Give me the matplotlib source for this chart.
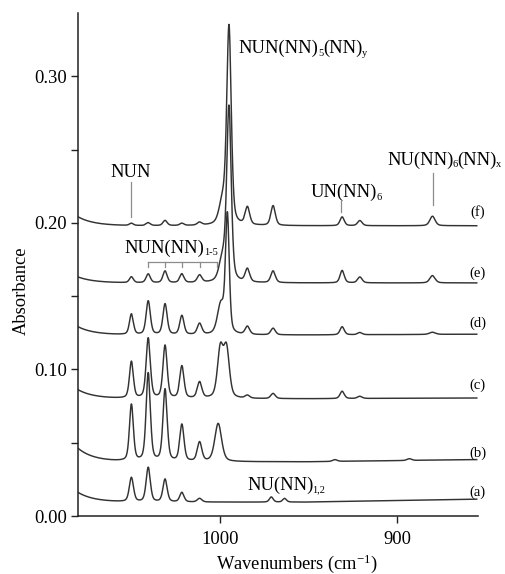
import numpy as np
import matplotlib
matplotlib.use("Agg")
import matplotlib.pyplot as plt

plt.rcParams['font.family'] = ['Liberation Serif', 'DejaVu Serif']
plt.rcParams['mathtext.fontset'] = 'custom'
plt.rcParams['mathtext.rm'] = 'Liberation Serif'
plt.rcParams['mathtext.it'] = 'Liberation Serif:italic'

# spectra labels, bottom to top
labels = ['(a)', '(b)', '(c)', '(d)', '(e)', '(f)']

# baseline: flat level, extra rise at the left edge, value at the right edge
base_level = [0.0095, 0.037, 0.080, 0.1235, 0.159, 0.198]
base_left = [0.0065, 0.009, 0.006, 0.0055, 0.004, 0.006]
base_right = [0.0115, 0.0385, 0.0805, 0.124, 0.159, 0.198]

# peaks per spectrum: (centre cm-1, height above baseline, fwhm cm-1)
peaks_a = [(1050, 0.0165, 2.8), (1040.5, 0.0235, 2.8), (1031, 0.0155, 2.8),
           (1021.5, 0.0065, 2.8), (1011.5, 0.0025, 3.0),
           (971, 0.0035, 2.5), (963.5, 0.0025, 2.5)]
peaks_b = [(1050, 0.0385, 2.6), (1040.5, 0.060, 2.8), (1031, 0.049, 2.8),
           (1021.5, 0.025, 2.8), (1011.5, 0.013, 3.0), (1001, 0.026, 4.5),
           (935, 0.0012, 3.0), (893, 0.0012, 3.0)]
peaks_c = [(1050, 0.025, 2.6), (1040.5, 0.041, 2.8), (1031, 0.036, 2.8),
           (1021.5, 0.022, 2.8), (1011.5, 0.011, 3.0),
           (999.8, 0.033, 3.8), (996.3, 0.033, 3.8),
           (984.5, 0.002, 3.0), (970, 0.0035, 3.0), (931, 0.005, 2.8),
           (921, 0.0015, 3.0)]
peaks_d = [(1050, 0.014, 2.6), (1040.5, 0.023, 2.8), (1031, 0.021, 2.8),
           (1021.5, 0.013, 2.8), (1011.5, 0.0075, 3.0),
           (999.5, 0.020, 4.5), (995.8, 0.080, 2.5),
           (984.5, 0.0055, 3.0), (970, 0.0045, 3.0), (931, 0.0055, 2.8),
           (921, 0.0015, 3.0), (880, 0.0015, 4.0)]
peaks_e = [(1050, 0.004, 2.6), (1040.5, 0.006, 2.8), (1031, 0.008, 2.8),
           (1021.5, 0.006, 2.8), (1011.5, 0.005, 3.0),
           (998.5, 0.015, 4.5), (994.9, 0.118, 3.0),
           (984.5, 0.009, 3.0), (970, 0.008, 3.0), (931, 0.0085, 2.8),
           (921, 0.004, 3.0), (880, 0.005, 3.5)]
peaks_f = [(1050, 0.0015, 2.6), (1040.5, 0.002, 2.8), (1031, 0.0035, 2.8),
           (1021.5, 0.0015, 2.8), (1011.5, 0.002, 3.0),
           (998.5, 0.015, 4.5), (994.9, 0.134, 3.0),
           (984.5, 0.012, 3.0), (970, 0.0135, 3.0), (931, 0.006, 2.8),
           (921, 0.0035, 3.0), (880, 0.0065, 3.5)]
all_peaks = [peaks_a, peaks_b, peaks_c, peaks_d, peaks_e, peaks_f]

# label y positions for (a)..(f)
label_y = [0.0164, 0.0429, 0.0893, 0.1316, 0.1656, 0.2072]

wn_left, wn_right = 1080.2, 854.2
wn = np.linspace(855, 1080, 2400)


def peak_shape(x, c, h, w):
    g = np.exp(-4 * np.log(2) * ((x - c) / w) ** 2)
    lo = 1.0 / (1.0 + 4 * ((x - c) / w) ** 2)
    return h * (0.6 * g + 0.4 * lo)


def chem_text(ax, x, y, parts, fs, sub_fs):
    # parts: list of (text, is_subscript); first part is normal text
    first = ax.text(x, y, parts[0][0], fontsize=fs, ha='left', va='baseline')
    prev = first
    for s, sub in parts[1:]:
        if sub:
            prev = ax.annotate(s, xy=(1, 0), xycoords=(prev, first),
                               xytext=(-0.6, 1.3), textcoords='offset points',
                               fontsize=sub_fs, ha='left', va='baseline')
        else:
            prev = ax.annotate(s, xy=(1, 0), xycoords=(prev, first),
                               xytext=(-0.2, 0), textcoords='offset points',
                               fontsize=fs, ha='left', va='bottom')
    return first


fig = plt.figure(figsize=(5.06, 5.74), dpi=100)
ax = fig.add_axes([0.154, 0.101, 0.791, 0.876])

for i in range(6):
    tilt = (base_right[i] - base_level[i]) * np.clip((950 - wn) / 95, 0, 1)
    y = base_level[i] + base_left[i] * np.exp(-(1080 - wn) / 9.0) + tilt
    for c, h, w in all_peaks[i]:
        y = y + peak_shape(wn, c, h, w)
    ax.plot(wn, y, color='#333333', lw=1.05)
    ax.text(854.4, label_y[i], labels[i], fontsize=10.5, ha='center',
            va='center', clip_on=False)

gray = '#8c8c8c'
fs = 13.3
sfs = 7.5

# NUN
ax.text(1050.3, 0.2345, 'NUN', fontsize=fs, ha='center', va='center')
ax.plot([1050, 1050], [0.2277, 0.2040], color=gray, lw=0.9)

# NUN(NN)1-5 with bracket
chem_text(ax, 1053.7, 0.1793, [('NUN(NN)', False), ('1-5', True)], fs, sfs)
bracket_x = [1040.7, 1031, 1021.3, 1011.3, 1001.8]
ax.plot([bracket_x[0], bracket_x[-1]], [0.1731, 0.1731], color=gray, lw=0.9)
for bx in bracket_x:
    ax.plot([bx, bx], [0.1731, 0.1697], color=gray, lw=0.9)

chem_text(ax, 989.3, 0.3156,
          [('NUN(NN)', False), ('5', True), ('(NN)', False), ('y', True)], fs, sfs)

chem_text(ax, 948.6, 0.2174, [('UN(NN)', False), ('6', True)], fs, sfs)
ax.plot([931.6, 931.6], [0.2147, 0.2072], color=gray, lw=0.9)

chem_text(ax, 905.6, 0.2393,
          [('NU(NN)', False), ('6', True), ('(NN)', False), ('x', True)], fs, sfs)
ax.plot([879.7, 879.7], [0.2338, 0.2120], color=gray, lw=0.9)

chem_text(ax, 984.7, 0.0177, [('NU(NN)', False), ('1,2', True)], fs, sfs)

ax.set_xlim(wn_left, wn_right)
ax.set_ylim(0.0, 0.343)
ax.set_xticks([1000, 900])
ax.set_yticks([0.0, 0.1, 0.2, 0.3])
ax.set_yticks([0.05, 0.15, 0.25], minor=True)
ax.set_yticklabels(['0.00', '0.10', '0.20', '0.30'])
ax.tick_params(axis='both', which='both', direction='out', length=5, width=1.0,
               labelsize=fs, color='#222222')
ax.tick_params(axis='x', pad=6)
ax.tick_params(axis='y', pad=3)

for s in ['top', 'right']:
    ax.spines[s].set_visible(False)
for s in ['left', 'bottom']:
    ax.spines[s].set_linewidth(1.1)
    ax.spines[s].set_color('#222222')

ax.set_xlabel('Wavenumbers (cm$^{-1}$)', fontsize=fs)
ax.xaxis.set_label_coords(0.5475, -0.072)
ax.set_ylabel('Absorbance', fontsize=fs)
ax.yaxis.set_label_coords(-0.12, 0.449)

fig.savefig('out.png', dpi=100)
